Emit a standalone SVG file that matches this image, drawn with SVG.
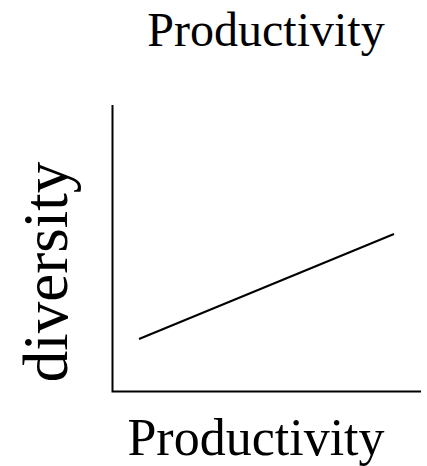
<svg xmlns="http://www.w3.org/2000/svg" width="427" height="466" viewBox="0 0 427 466">
<style>
text{font-family:"Liberation Serif","Times New Roman",serif;fill:#000}
.ax{stroke:#000;stroke-width:2;fill:none}
</style>
<rect width="427" height="466" fill="#fff"/>
<g id="title"><text x="266" y="46" font-size="48" text-anchor="middle">Productivity</text></g>
<g id="ylabel"><text transform="translate(67,272) rotate(-90)" font-size="63" text-anchor="middle">diversity</text></g>
<g id="xlabel"><text x="256" y="455" font-size="52" text-anchor="middle">Productivity</text></g>
<g id="connectors">
<path class="ax" d="M112.5,105 V391.5 H421"/>
<path d="M139,339 L394,234" stroke="#000" stroke-width="2"/>
</g>
</svg>
